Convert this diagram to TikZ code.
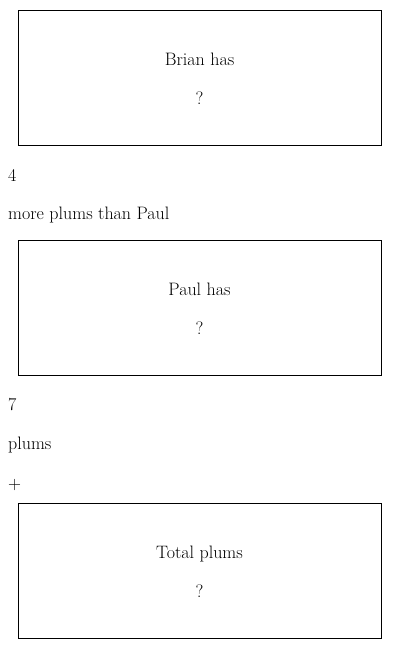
\documentclass[tikz,border=0pt]{standalone}
\begin{document}
\begin{tikzpicture}[x=1pt,y=-1pt,
  box/.style={draw=black,line width=0.8pt},
  lbl/.style={inner sep=0pt,anchor=base,font=\fontsize{18}{21}\selectfont},
  side/.style={inner sep=0pt,anchor=base west,font=\fontsize{18}{21}\selectfont}]
\useasboundingbox (0,0) rectangle (400,649);
\draw[box] (18,10) rectangle (381,145);
\node[lbl] (b1) at (199.5,65.5) {Brian has};
\node[lbl] (q1) at (199.5,104.5) {?};
\node[side] (n4) at (8,181.5) {4};
\node[side] (more) at (8,219.5) {more plums than Paul};
\draw[box] (18,240) rectangle (381,375);
\node[lbl] (b2) at (199.5,295.5) {Paul has};
\node[lbl] (q2) at (199.5,334.5) {?};
\node[side] (n7) at (8,410.5) {7};
\node[side] (pl) at (8,449.5) {plums};
\node[side] (plus) at (8,489.5) {+};
\draw[box] (18,503) rectangle (381,638);
\node[lbl] (b3) at (199.5,558.5) {Total plums};
\node[lbl] (q3) at (199.5,597.5) {?};
\end{tikzpicture}
\end{document}
